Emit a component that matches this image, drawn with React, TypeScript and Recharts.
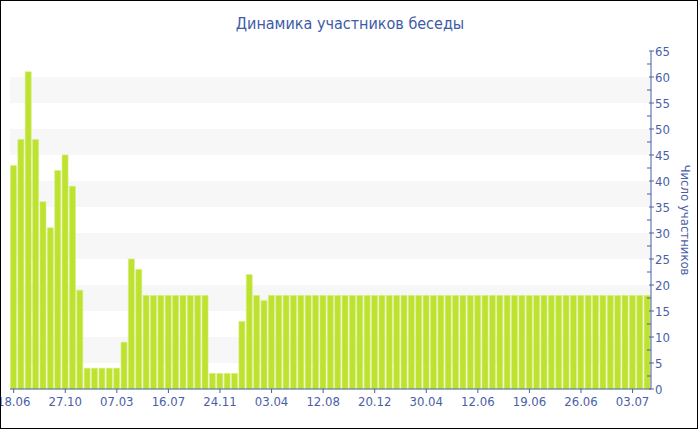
import { BarChart, Bar, XAxis, YAxis, ReferenceArea, Label } from 'recharts';

// dates of the snapshots (dd.mm)
const dates = [
  '18.06', '07.07', '26.07', '14.08', '01.09', '20.09', '08.10',
  '27.10', '15.11', '04.12', '23.12', '10.01', '29.01', '16.02',
  '07.03', '26.03', '14.04', '03.05', '21.05', '09.06', '27.06',
  '16.07', '04.08', '23.08', '11.09', '29.09', '18.10', '05.11',
  '24.11', '13.12', '31.12', '19.01', '06.02', '25.02', '15.03',
  '03.04', '22.04', '11.05', '30.05', '17.06', '06.07', '24.07',
  '12.08', '31.08', '18.09', '07.10', '25.10', '13.11', '01.12',
  '20.12', '08.01', '27.01', '15.02', '05.03', '24.03', '11.04',
  '30.04', '06.05', '12.05', '18.05', '24.05', '30.05', '05.06',
  '12.06', '13.06', '14.06', '15.06', '16.06', '17.06', '18.06',
  '19.06', '20.06', '21.06', '22.06', '23.06', '24.06', '25.06',
  '26.06', '27.06', '28.06', '29.06', '30.06', '01.07', '02.07',
  '03.07', '04.07', '05.07',
];

const members = [
  43, 48, 61, 48, 36, 31, 42, 45, 39, 19,
  4, 4, 4, 4, 4, 9, 25, 23,
  18, 18, 18, 18, 18, 18, 18, 18, 18,
  3, 3, 3, 3,
  13, 22, 18, 17,
  18, 18, 18, 18, 18, 18, 18, 18, 18, 18,
  18, 18, 18, 18, 18, 18, 18, 18, 18, 18,
  18, 18, 18, 18, 18, 18, 18, 18, 18, 18,
  18, 18, 18, 18, 18, 18, 18, 18, 18, 18,
  18, 18, 18, 18, 18, 18, 18, 18, 18, 18,
  18, 18,
];

const yTicks = [
  0, 2.5, 5, 7.5, 10, 12.5, 15, 17.5, 20, 22.5, 25, 27.5, 30, 32.5,
  35, 37.5, 40, 42.5, 45, 47.5, 50, 52.5, 55, 57.5, 60, 62.5, 65,
];

// alternate shaded bands of the value axis
const bands = [[5, 10], [15, 20], [25, 30], [35, 40], [45, 50], [55, 60]];

const data = dates.map((date, i) => ({ date, members: members[i] }));

const BLUE = '#4a5ea8';
const FONT = '"DejaVu Sans Condensed", "DejaVu Sans", sans-serif';

function RightTick(props: any) {
  const { x, y, payload } = props;
  const major = payload.value % 5 === 0;
  if (!major) {
    return <line x1={x - 4} y1={y} x2={x} y2={y} stroke={BLUE} />;
  }
  return (
    <g>
      <line x1={x - 2} y1={y} x2={x + 3} y2={y} stroke={BLUE} />
      <text x={x + 4} y={y} dy="0.36em" fill={BLUE} fontSize={13} fontFamily={FONT}>
        {payload.value}
      </text>
    </g>
  );
}

export default function App() {
  return (
    <div style={{ position: 'absolute', left: 0, top: 0, width: 700, height: 430, background: '#fff' }}>
      <div
        style={{
          position: 'absolute',
          left: 0,
          top: 14,
          width: 700,
          textAlign: 'center',
          fontFamily: FONT,
          fontSize: 16,
          color: '#3e5aa8',
        }}
      >
        Динамика участников беседы
      </div>
      <BarChart
        width={700}
        height={430}
        data={data}
        margin={{ top: 51, right: 0, bottom: 11, left: 10 }}
        barCategoryGap={0.5}
      >
        {bands.map(([a, b]) => (
          <ReferenceArea key={a} y1={a} y2={b} fill="#f7f7f7" fillOpacity={1} stroke="none" />
        ))}
        <XAxis
          dataKey="date"
          interval={6}
          tickSize={4}
          tickMargin={4}
          stroke={BLUE}
          tick={{ fill: BLUE, fontSize: 13, fontFamily: FONT }}
        />
        <YAxis
          orientation="right"
          width={49}
          domain={[0, 65]}
          ticks={yTicks}
          interval={0}
          tickSize={0}
          tickMargin={0}
          tickLine={false}
          stroke={BLUE}
          tick={<RightTick />}
        >
          <Label
            value="Число участников"
            angle={90}
            position="center"
            dx={10}
            fill={BLUE}
            fontSize={13}
            fontFamily={FONT}
          />
        </YAxis>
        <Bar dataKey="members" fill="#bde230" stroke="#d6ee7e" strokeWidth={0.6} isAnimationActive={false} />
      </BarChart>
      <div
        style={{
          position: 'absolute',
          left: 0,
          top: 0,
          width: 698,
          height: 429,
          border: '1px solid #000',
          boxSizing: 'border-box',
          pointerEvents: 'none',
        }}
      />
    </div>
  );
}
